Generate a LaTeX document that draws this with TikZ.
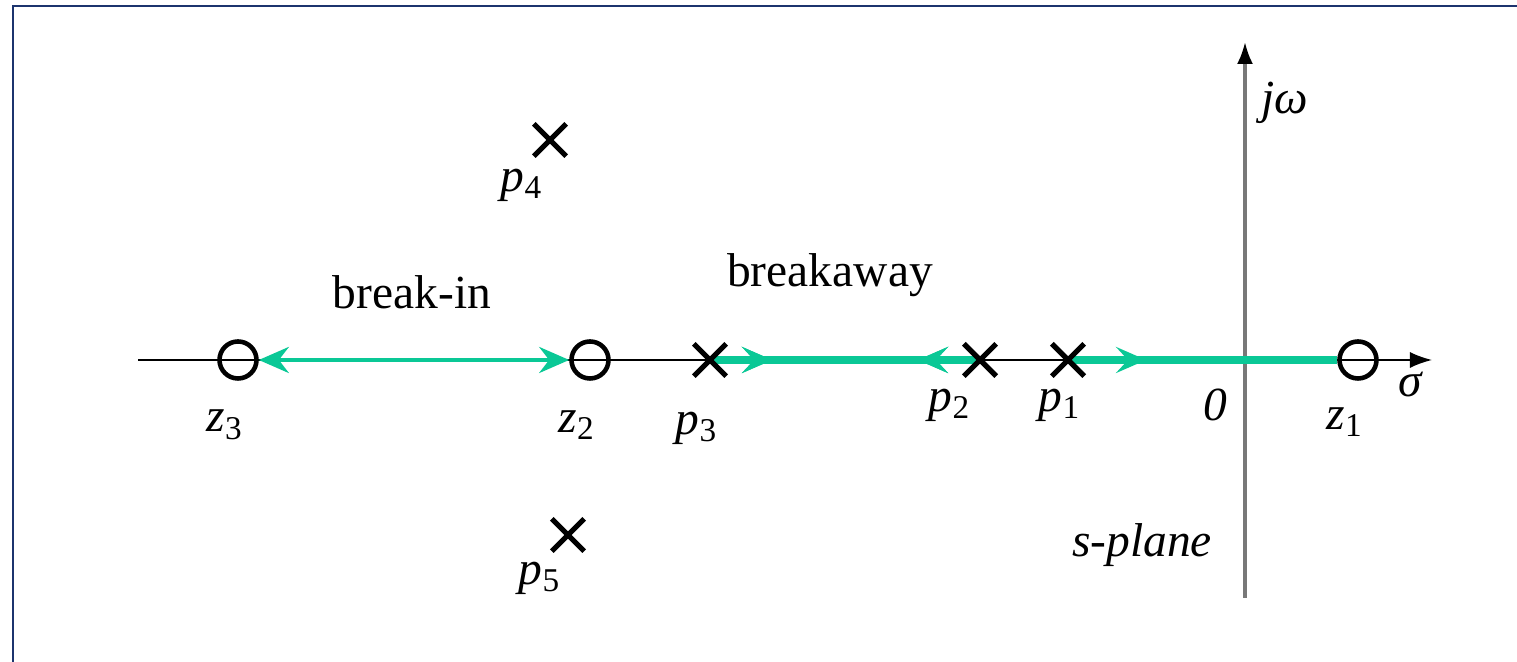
\documentclass[tikz,border=0pt]{standalone}
\usepackage{fontspec}
\setmainfont{Liberation Serif}
\usepackage{xcolor}
\usetikzlibrary{arrows.meta,shapes.misc,decorations.markings,backgrounds}
\definecolor{framenavy}{RGB}{28, 52, 110}
\definecolor{locusgreen}{RGB}{10, 200, 150}
\definecolor{axisgray}{RGB}{120, 120, 120}

\tikzset{
    zeromark/.style={circle,draw=black,line width=1.3pt,minimum size=0.37cm,inner sep=0pt},
    polemark/.style={cross out,draw=black,line width=1.5pt,minimum size=0.27cm,inner sep=0pt},
    locus/.style={locusgreen,line width=2pt},
    breakin/.style={locusgreen,line width=1.2pt,{Stealth[length=0.3cm,width=0.26cm,inset=0.1cm]}-{Stealth[length=0.3cm,width=0.26cm,inset=0.1cm]}},
    fwdarrow/.style={postaction={decorate},decoration={markings,
        mark=at position #1 with {\arrow{Stealth[length=0.3cm,width=0.26cm,inset=0.12cm]}}}},
    bwdarrow/.style={postaction={decorate},decoration={markings,
        mark=at position #1 with {\arrowreversed{Stealth[length=0.3cm,width=0.26cm,inset=0.12cm]}}}},
    lbl/.style={font=\fontsize{13.5}{16}\selectfont\itshape,inner sep=0pt},
    txt/.style={font=\fontsize{13.5}{16}\selectfont,inner sep=0pt}
}

\begin{document}
\begin{tikzpicture}[x=0.01cm,y=-0.01cm]
        \useasboundingbox (0,0) rectangle (1517,662);
        % frame
        \draw[framenavy,line width=0.8pt] (13,662) -- (13,6) -- (1517,6);
        % zeros and poles
        \node[zeromark] (z3) at (238,360) {};
        \node[zeromark] (z2) at (590,360) {};
        \node[zeromark] (z1) at (1358,360) {};
        \node[polemark] (p3) at (710,360) {};
        \node[polemark] (p2) at (980,360) {};
        \node[polemark] (p1) at (1068,360) {};
        \node[polemark] (p4) at (550,140) {};
        \node[polemark] (p5) at (568,535) {};
        \begin{scope}[on background layer]
            % axes
            \coordinate (sigl) at (138,360);
            \coordinate (sigr) at (1432,360);
            \coordinate (omb) at (1245,598);
            \coordinate (omt) at (1245,42);
            \draw[black,line width=0.45pt,-{Latex[length=0.22cm,width=0.16cm]}] (sigl) -- (sigr);
            \draw[axisgray,line width=0.9pt,-{Latex[length=0.22cm,width=0.16cm,color=black]}] (omb) -- (omt);
            % root locus branches
            \draw[locus,fwdarrow=0.23,bwdarrow=0.77] (p3.center) -- (p2.center);
            \draw[locus,fwdarrow=0.29] (p1.center) -- (z1);
        \end{scope}
        \draw[breakin] (z3) -- (z2);
        % labels
        \node[lbl] (lz3) at (225,425) {z\textsubscript{\upshape 3}};
        \node[lbl] (lz2) at (577,425) {z\textsubscript{\upshape 2}};
        \node[lbl] (lz1) at (1345,422) {z\textsubscript{\upshape 1}};
        \node[lbl] (lp3) at (697,428) {p\textsubscript{\upshape 3}};
        \node[lbl] (lp2) at (950,405) {p\textsubscript{\upshape 2}};
        \node[lbl] (lp1) at (1060,405) {p\textsubscript{\upshape 1}};
        \node[lbl] (lp4) at (522,185) {p\textsubscript{\upshape 4}};
        \node[lbl] (lp5) at (540,578) {p\textsubscript{\upshape 5}};
        \node[lbl] (lzero) at (1215,405) {0};
        \node[lbl] (lsig) at (1410,385) {σ};
        \node[lbl] (lom) at (1285,103) {jω};
        \node[lbl] (lsp) at (1142,545) {s-plane};
        \node[txt] (lbi) at (412,292) {break-in};
        \node[txt] (lba) at (830,275) {breakaway};
    \end{tikzpicture}
\end{document}
